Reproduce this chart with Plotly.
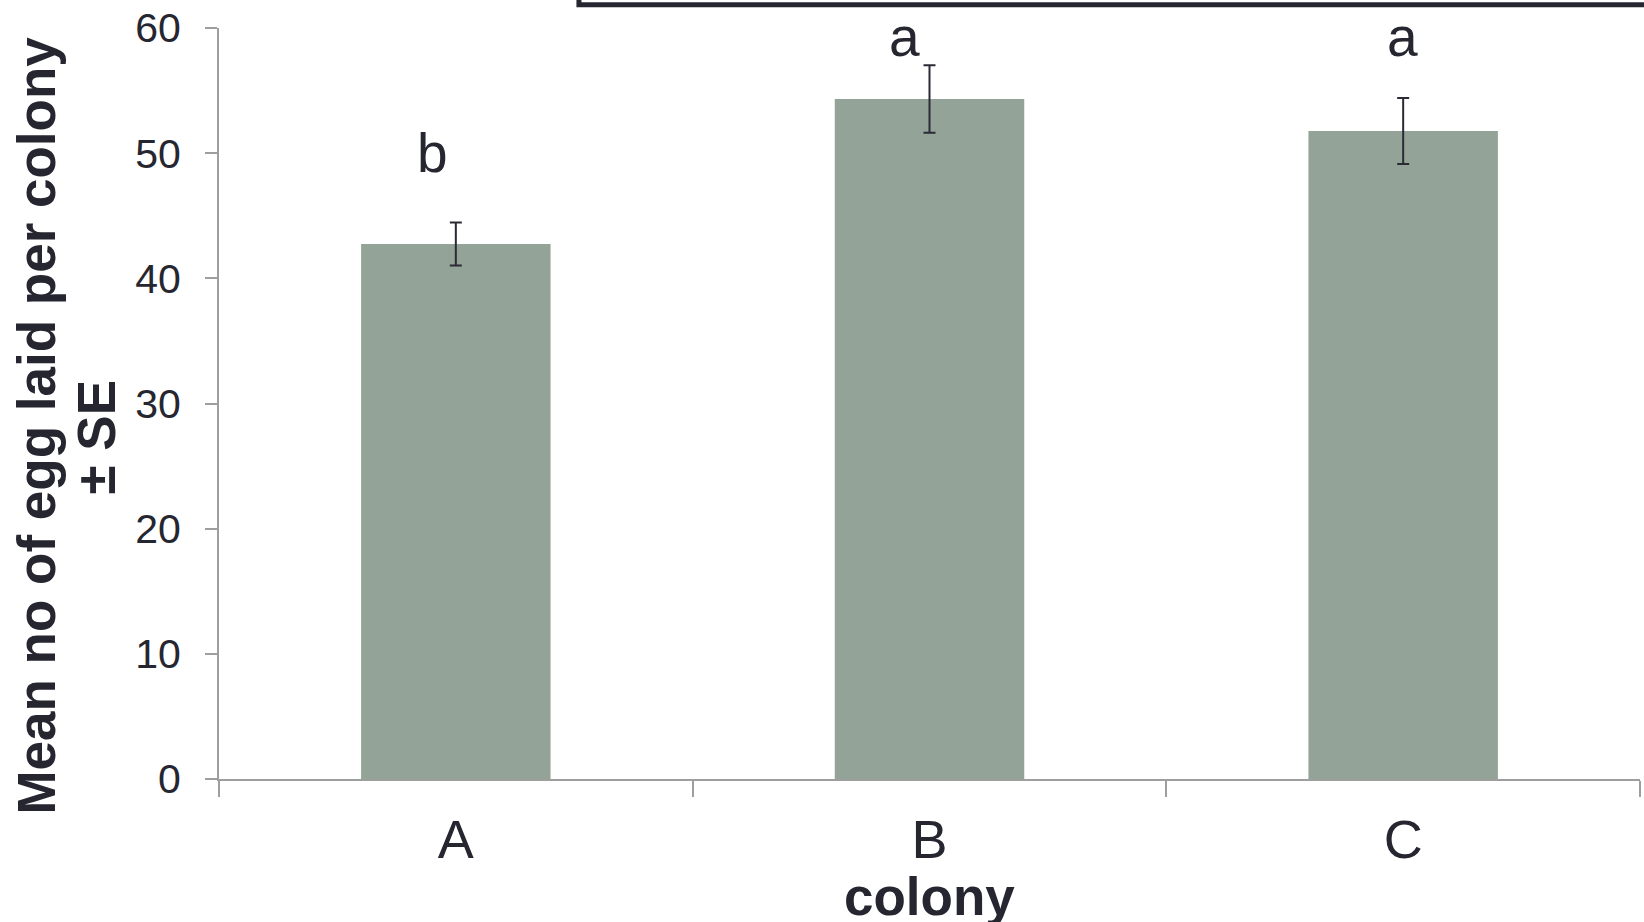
import plotly.graph_objects as go

# Colony means with standard errors
colonies = ["A", "B", "C"]
mean_eggs = [42.75, 54.33, 51.77]
se_eggs = [1.72, 2.70, 2.64]
group_letters = ["b", "a", "a"]

# Where the significance letters sit (baseline in axis units, horizontal nudge in px)
letter_y = [48.4, 57.7, 57.7]
letter_dx = [-23, -25, -1]

FONT = "Liberation Sans, Arial, sans-serif"
INK = "#262631"
AXIS = "#9e9e9e"

fig = go.Figure()
fig.add_trace(go.Bar(
    x=colonies,
    y=mean_eggs,
    marker=dict(color="#93a397", line=dict(width=0)),
    error_y=dict(type="data", array=se_eggs, visible=True,
                 color="#2b2b36", thickness=2, width=6),
    showlegend=False,
))

for cat, lab, yy, dx in zip(colonies, group_letters, letter_y, letter_dx):
    fig.add_annotation(x=cat, y=yy, xref="x", yref="y", text=lab,
                       showarrow=False, xanchor="center", yanchor="bottom",
                       xshift=dx, yshift=-13,
                       font=dict(family=FONT, size=55, color=INK))

# Y-axis title, two rotated lines set tighter than the default line height
title_font = dict(family=FONT, size=53, color=INK)
fig.add_annotation(text="<b>Mean no of egg laid per colony</b>",
                   xref="paper", yref="paper", x=-0.1291, y=0.470,
                   xanchor="center", yanchor="middle", textangle=-90,
                   showarrow=False, font=title_font)
fig.add_annotation(text="<b>± SE</b>",
                   xref="paper", yref="paper", x=-0.0862, y=0.4554,
                   xanchor="center", yanchor="middle", textangle=-90,
                   showarrow=False, font=title_font)
fig.add_annotation(text="<b>colony</b>", xref="paper", yref="paper",
                   x=0.5, y=-0.156, xanchor="center", yanchor="middle",
                   showarrow=False, font=title_font)

# Frame edge along the top of the figure
fig.add_shape(type="rect", xref="paper", yref="paper",
              x0=0.2533, x1=1.1, y0=1.031, y1=1.5,
              line=dict(color="#262630", width=5), fillcolor="rgba(0,0,0,0)")

fig.update_layout(
    width=1644, height=922,
    margin=dict(l=219, r=4, t=28, b=143),
    paper_bgcolor="white", plot_bgcolor="white",
    bargap=0.6,
    font=dict(family=FONT, color=INK),
)
fig.update_xaxes(
    type="category", showline=True, linecolor=AXIS, linewidth=2,
    ticks="outside", tickson="boundaries", ticklen=16, tickwidth=2,
    tickcolor=AXIS, showgrid=False, zeroline=False,
    tickfont=dict(family=FONT, size=54, color=INK),
    ticklabelstandoff=12,
)
fig.update_yaxes(
    range=[0, 60], dtick=10, showline=True, linecolor=AXIS, linewidth=2,
    ticks="outside", ticklen=12, tickwidth=2, tickcolor=AXIS,
    showgrid=False, zeroline=False,
    tickfont=dict(family=FONT, size=41, color=INK),
    ticklabelstandoff=16,
)

fig.write_html("out.html")
